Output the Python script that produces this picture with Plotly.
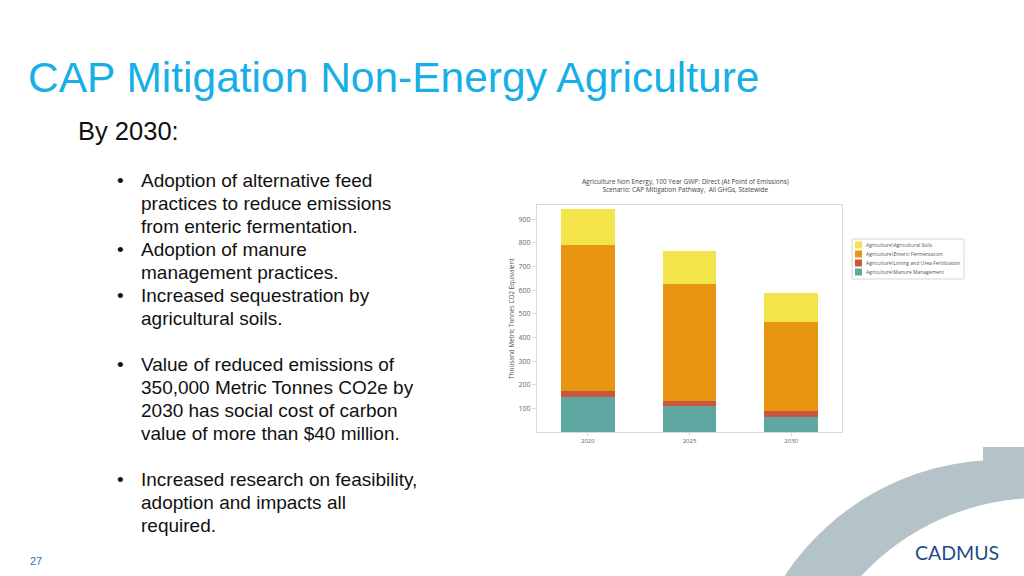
import numpy as np
import plotly.graph_objects as go

W, H = 1024, 576

# ---------------- data ----------------
years = ["2020", "2025", "2030"]
manure_management = [150, 108, 64]
liming_urea = [22, 22, 24]
enteric_fermentation = [619, 496, 377]
agricultural_soils = [152, 139, 122]

series_names = [
    "Agriculture\\Manure Management",
    "Agriculture\\Liming and Urea Fertilization",
    "Agriculture\\Enteric Fermentation",
    "Agriculture\\Agricultural Soils",
]
series_colors = ["#5FA8A1", "#C9573B", "#E8960F", "#F3E44C"]
y_ticks = [100, 200, 300, 400, 500, 600, 700, 800, 900]

chart_title = ("Agriculture Non Energy, 100 Year GWP: Direct (At Point of Emissions)<br>"
               "Scenario: CAP Mitigation Pathway,  All GHGs, Statewide")
y_title = "Thousand Metric Tonnes CO2 Equivalent"

slide_title = "CAP Mitigation Non-Energy Agriculture"
subtitle = "By 2030:"
bullet_lines = [
    ("•", "Adoption of alternative feed"),
    ("", "practices to reduce emissions"),
    ("", "from enteric fermentation."),
    ("•", "Adoption of manure"),
    ("", "management practices."),
    ("•", "Increased sequestration by"),
    ("", "agricultural soils."),
    None,
    ("•", "Value of reduced emissions of"),
    ("", "350,000 Metric Tonnes CO2e by"),
    ("", "2030 has social cost of carbon"),
    ("", "value of more than $40 million."),
    None,
    ("•", "Increased research on feasibility,"),
    ("", "adoption and impacts all"),
    ("", "required."),
]
page_number = "27"
logo_text = "CADMUS"

# ---------------- helpers (pixel -> paper) ----------------
def px(x):
    return x / W

def py(y):
    return 1 - y / H

fig = go.Figure()
for name, vals, col in zip(series_names,
                           [manure_management, liming_urea, enteric_fermentation, agricultural_soils],
                           series_colors):
    fig.add_trace(go.Bar(x=years, y=vals, name=name, marker=dict(color=col, line=dict(width=0))))

# plot area in pixels
PL, PR, PT, PB = 537, 842, 205, 432

fig.update_layout(
    width=W, height=H,
    margin=dict(l=0, r=0, t=0, b=0),
    paper_bgcolor="white", plot_bgcolor="white",
    barmode="stack", bargap=0.47,
    showlegend=False,
    xaxis=dict(
        domain=[px(PL), px(PR)], type="category",
        showline=True, linecolor="#d9d9d9", mirror=True,
        ticks="outside", ticklen=3, tickcolor="#d9d9d9",
        tickfont=dict(family="Open Sans", size=6, color="#666"),
        showgrid=False, zeroline=False,
    ),
    yaxis=dict(
        domain=[py(PB), py(PT)], range=[0, 960],
        tickvals=y_ticks,
        showline=True, linecolor="#d9d9d9", mirror=True,
        ticks="outside", ticklen=4, tickcolor="#d9d9d9",
        tickfont=dict(family="Open Sans", size=7, color="#666"),
        showgrid=False, zeroline=False,
        title=dict(text=y_title, font=dict(family="Open Sans", size=6.4, color="#555"), standoff=3),
    ),
)

ann = []
shapes = []
# chart title
ann.append(dict(text=chart_title, x=px(685), y=py(185), xref="paper", yref="paper",
                xanchor="center", yanchor="middle", showarrow=False, align="center",
                font=dict(family="Open Sans", size=6.5, color="#444")))

# manual legend (drawn compactly, top item = top of stack)
LX0, LX1, LY0, LY1 = 852, 964, 239, 279
shapes.append(dict(type="rect", x0=px(LX0), x1=px(LX1), y0=py(LY0), y1=py(LY1),
                   xref="paper", yref="paper", line=dict(color="#d6d6d6", width=1),
                   fillcolor="white"))
for i, (name, col) in enumerate(zip(series_names[::-1], series_colors[::-1])):
    yc = 245 + 9 * i
    shapes.append(dict(type="rect", x0=px(855), x1=px(862), y0=py(yc - 3.5), y1=py(yc + 3.5),
                       xref="paper", yref="paper", line=dict(width=0), fillcolor=col))
    ann.append(dict(text=name, x=px(864), y=py(yc), xref="paper", yref="paper",
                    xanchor="left", yanchor="middle", showarrow=False,
                    font=dict(family="Open Sans", size=5, color="#555")))

# slide title
ann.append(dict(text=slide_title, x=px(26), y=py(77), xref="paper", yref="paper",
                xanchor="left", yanchor="middle", showarrow=False,
                font=dict(family="Liberation Sans", size=42.5, color="#17AFE6")))
ann.append(dict(text=subtitle, x=px(76), y=py(131), xref="paper", yref="paper",
                xanchor="left", yanchor="middle", showarrow=False,
                font=dict(family="Liberation Sans", size=25.5, color="#111")))
y = 180
for item in bullet_lines:
    if item is None:
        y += 23
        continue
    b, t = item
    if b:
        ann.append(dict(text=b, x=px(115), y=py(y), xref="paper", yref="paper",
                        xanchor="left", yanchor="middle", showarrow=False,
                        font=dict(family="Liberation Sans", size=19, color="#111")))
    ann.append(dict(text=t, x=px(139), y=py(y), xref="paper", yref="paper",
                    xanchor="left", yanchor="middle", showarrow=False,
                    font=dict(family="Liberation Sans", size=19, color="#111")))
    y += 23
ann.append(dict(text=page_number, x=px(36), y=py(561), xref="paper", yref="paper",
                xanchor="center", yanchor="middle", showarrow=False,
                font=dict(family="Liberation Sans", size=11, color="#3A6BAF")))
ann.append(dict(text=logo_text, x=px(957), y=py(552), xref="paper", yref="paper",
                xanchor="center", yanchor="middle", showarrow=False,
                font=dict(family="Lato", size=19.5, color="#1F4B8A")))
fig.update_layout(annotations=ann)

# decorative ring (bottom right)
oc, orad = (1000, 718), 258
ic, irad = (1040, 742), 244
pts = []
for a in np.linspace(np.deg2rad(146.6), np.deg2rad(84.7), 60):
    pts.append((oc[0] + orad * np.cos(a), oc[1] - orad * np.sin(a)))
pts.append((1024, 460))
pts.append((1024, 502))
for a in np.linspace(np.deg2rad(93.8), np.deg2rad(137.8), 60):
    pts.append((ic[0] + irad * np.cos(a), ic[1] - irad * np.sin(a)))
pts.append((860, 576))
path = "M " + " L ".join(f"{px(a):.5f},{py(b):.5f}" for a, b in pts) + " Z"
shapes = [
    dict(type="path", path=path, xref="paper", yref="paper",
         fillcolor="#B4C3C8", line=dict(width=0), layer="below"),
    dict(type="rect", x0=px(983), x1=px(1024), y0=py(447), y1=py(462), xref="paper", yref="paper",
         fillcolor="#B4C3C8", line=dict(width=0), layer="below"),
] + shapes
fig.update_layout(shapes=shapes)

fig.write_html("out.html", config={"displayModeBar": False},
               post_script="document.body.style.margin='0';document.body.style.overflow='hidden';")
